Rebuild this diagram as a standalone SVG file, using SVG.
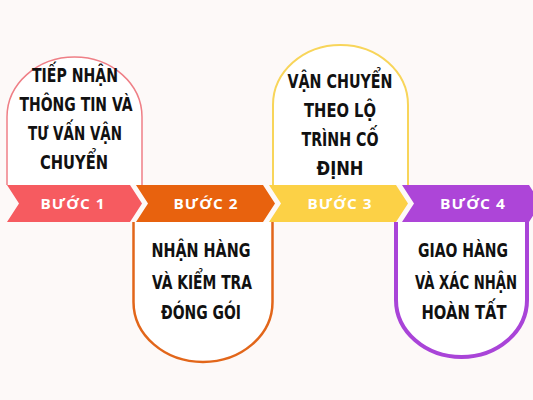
<svg xmlns="http://www.w3.org/2000/svg" width="533" height="400" viewBox="0 0 533 400">
<style>
.card{fill:#FFFFFF}
.t{font-family:"DejaVu Sans Condensed","Liberation Sans",sans-serif;font-weight:bold;font-size:19px;fill:#111111;text-anchor:middle}
.b{font-family:"Open Sans","Liberation Sans",sans-serif;font-weight:bold;font-size:15px;fill:#FFFFFF;text-anchor:middle;letter-spacing:1px}
</style>
<rect width="533" height="400" fill="#FDF9F8"/>
<g id="connectors"></g>
<g id="step1">
<path class="card" d="M7,185 V117 A67.5,60 0 0 1 142,117 V185" stroke="#EF7F86" stroke-width="1.5"/>
<polygon points="7,185 130,185 142,203.5 130,222 7,222 19,203.5" fill="#F65B60"/>
<text class="b" x="73" y="208.5" textLength="65" lengthAdjust="spacingAndGlyphs">BƯỚC 1</text>
<text class="t" x="75" y="82" textLength="86" lengthAdjust="spacingAndGlyphs">TIẾP NHẬN</text>
<text class="t" x="76" y="111" textLength="113" lengthAdjust="spacingAndGlyphs">THÔNG TIN VÀ</text>
<text class="t" x="75" y="140" textLength="94" lengthAdjust="spacingAndGlyphs">TƯ VẤN VẬN</text>
<text class="t" x="74" y="169" textLength="68" lengthAdjust="spacingAndGlyphs">CHUYỂN</text>
</g>
<g id="step2">
<path class="card" d="M133.5,222 V302 A69.5,60 0 0 0 272.5,302 V222" stroke="#E2661A" stroke-width="2.5"/>
<polygon points="136,185 263,185 275,203.5 263,222 136,222 148,203.5" fill="#E8620E"/>
<text class="b" x="206" y="208.5" textLength="65" lengthAdjust="spacingAndGlyphs">BƯỚC 2</text>
<text class="t" x="201" y="257" textLength="99" lengthAdjust="spacingAndGlyphs">NHẬN HÀNG</text>
<text class="t" x="202" y="289" textLength="100" lengthAdjust="spacingAndGlyphs">VÀ KIỂM TRA</text>
<text class="t" x="201" y="319" textLength="80" lengthAdjust="spacingAndGlyphs">ĐÓNG GÓI</text>
</g>
<g id="step3">
<path class="card" d="M273,185 V105 A67.5,60 0 0 1 408,105 V185" stroke="#F8D55A" stroke-width="2"/>
<polygon points="269,185 396,185 408,203.5 396,222 269,222 281,203.5" fill="#FCD146"/>
<text class="b" x="340" y="208.5" textLength="65" lengthAdjust="spacingAndGlyphs">BƯỚC 3</text>
<text class="t" x="340" y="88" textLength="105" lengthAdjust="spacingAndGlyphs">VẬN CHUYỂN</text>
<text class="t" x="340" y="117" textLength="72" lengthAdjust="spacingAndGlyphs">THEO LỘ</text>
<text class="t" x="340" y="146" textLength="77" lengthAdjust="spacingAndGlyphs">TRÌNH CỐ</text>
<text class="t" x="340" y="175" textLength="47" lengthAdjust="spacingAndGlyphs">ĐỊNH</text>
</g>
<g id="step4">
<path class="card" d="M396,222 V300 A65.5,57 0 0 0 527,300 V222" stroke="#A944D8" stroke-width="4"/>
<polygon points="402,185 529,185 541,203.5 529,222 402,222 414,203.5" fill="#AD45D8"/>
<text class="b" x="473" y="208.5" textLength="66" lengthAdjust="spacingAndGlyphs">BƯỚC 4</text>
<text class="t" x="463" y="257" textLength="90" lengthAdjust="spacingAndGlyphs">GIAO HÀNG</text>
<text class="t" x="466" y="289" textLength="102" lengthAdjust="spacingAndGlyphs">VÀ XÁC NHẬN</text>
<text class="t" x="464" y="319" textLength="85" lengthAdjust="spacingAndGlyphs">HOÀN TẤT</text>
</g>
</svg>
